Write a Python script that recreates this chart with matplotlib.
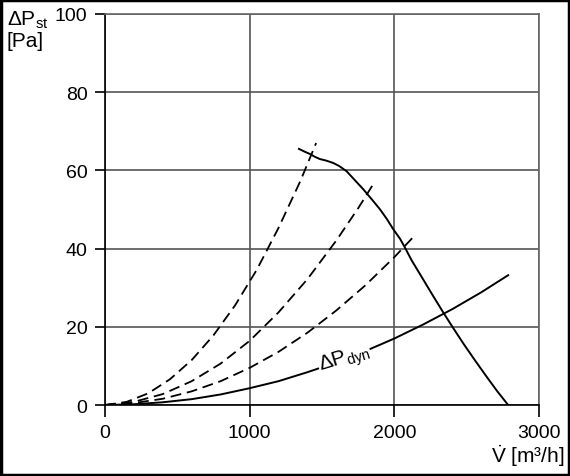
import matplotlib
matplotlib.use('Agg')
import matplotlib.pyplot as plt
from matplotlib.patches import Rectangle

plt.rcParams['font.family'] = ['Liberation Sans', 'DejaVu Sans']
plt.rcParams['mathtext.fontset'] = 'custom'
plt.rcParams['mathtext.rm'] = 'Liberation Sans'
plt.rcParams['mathtext.it'] = 'Liberation Sans'

# fan curve (static pressure)
fan_x = [1341, 1380, 1417, 1450, 1486, 1530, 1578, 1620, 1670, 1720, 1785, 1840, 1900,
         1950, 1992, 2040, 2073, 2120, 2177, 2260, 2338, 2400, 2476, 2560, 2637, 2710, 2787]
fan_y = [65.5, 64.8, 64.2, 63.5, 62.9, 62.5, 61.9, 61.1, 59.8, 57.8, 55.2, 52.8, 50.1,
         47.5, 45.0, 42.5, 40.3, 37.0, 33.5, 28.4, 23.7, 20.1, 15.8, 11.3, 7.3, 3.6, 0.0]

# dynamic pressure
dyn_x = [0, 200, 400, 600, 800, 1000, 1200, 1400, 1600, 1800, 2000, 2200, 2400, 2600, 2787]
dyn_y = [0, 0.2, 0.7, 1.5, 2.7, 4.3, 6.1, 8.4, 10.9, 13.8, 17.0, 20.6, 24.5, 28.8, 33.2]

# system curves (dashed)
sys1_x = [0, 150, 300, 450, 600, 750, 900, 1050, 1200, 1350, 1460]
sys1_y = [0, 0.8, 3.0, 6.6, 11.5, 17.8, 25.5, 34.6, 45.3, 57.2, 67.0]
sys2_x = [0, 200, 400, 600, 800, 1000, 1200, 1400, 1600, 1750, 1860]
sys2_y = [0, 0.8, 2.8, 6.1, 10.6, 16.4, 23.7, 32.2, 42.1, 50.3, 56.8]
sys3_x = [0, 200, 400, 600, 800, 1000, 1200, 1400, 1600, 1800, 2000, 2150]
sys3_y = [0, 0.5, 1.6, 3.5, 6.1, 9.5, 13.6, 18.5, 24.2, 30.6, 37.8, 43.7]

fig = plt.figure(figsize=(5.7, 4.77), dpi=100)
ax = fig.add_axes([0.184, 0.1488, 0.7616, 0.8198])

for sx, sy in [(sys1_x, sys1_y), (sys2_x, sys2_y), (sys3_x, sys3_y)]:
    ax.plot(sx, sy, color='black', lw=1.3, ls=(0, (6, 3.2)))
ax.plot(fan_x, fan_y, color='black', lw=1.4)
ax.plot(dyn_x, dyn_y, color='black', lw=1.4)

ax.text(1655, 11.8, 'ΔP$_{\\mathrm{dyn}}$', rotation=17, ha='center', va='center',
        fontsize=15, bbox=dict(facecolor='white', edgecolor='none', pad=0.5))

ax.set_xlim(0, 3000)
ax.set_ylim(0, 100)
ax.set_xticks([0, 1000, 2000, 3000])
ax.set_yticks([0, 20, 40, 60, 80, 100])
ax.tick_params(direction='out', width=1.2, labelsize=14)
ax.tick_params(axis='y', length=7.5, pad=5)
ax.tick_params(axis='x', length=8.5, pad=5)
ax.grid(True, color='#555555', lw=1.2)
for side in ['top', 'right']:
    ax.spines[side].set_color('#666666')
    ax.spines[side].set_linewidth(1.2)
for side in ['left', 'bottom']:
    ax.spines[side].set_linewidth(1.2)

fig.text(0.012, 0.98, 'ΔP$_{\\mathrm{st}}$\n[Pa]', ha='left', va='top', fontsize=15,
         linespacing=1.05)
fig.text(0.99, 0.016, '$\\dot{\\mathrm{V}}$ [m³/h]', ha='right', va='bottom', fontsize=15)

fig.patches.append(Rectangle((0.002, 0.002), 0.996, 0.996, transform=fig.transFigure,
                             fill=False, edgecolor='black', lw=2.5))

fig.savefig('out.png', dpi=100)
